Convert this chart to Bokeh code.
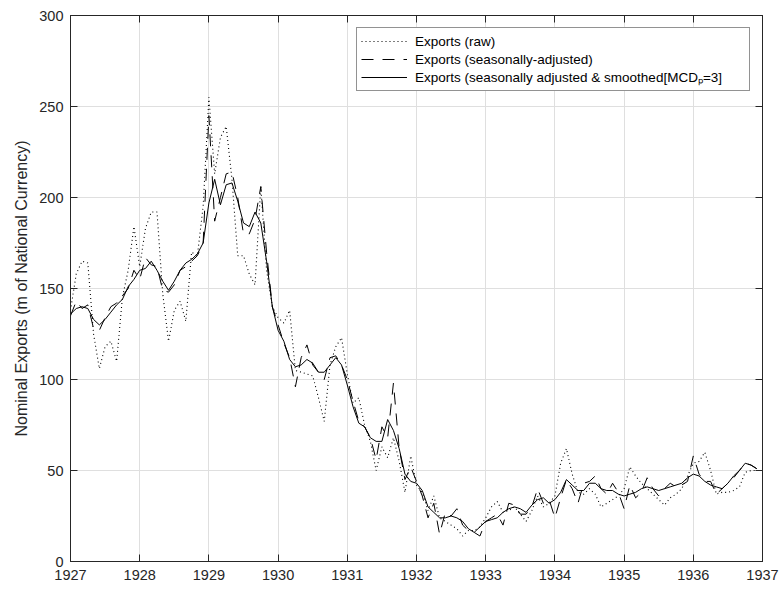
import numpy as np
from bokeh.plotting import figure
from bokeh.models import (Range1d, FixedTicker, LinearAxis, Legend, LegendItem,
                          ColumnDataSource, CustomJSTickFormatter)
from bokeh.embed import file_html
from bokeh.resources import INLINE

# ---------------- data (monthly, Jan 1927 .. Dec 1936) ----------------
start_year = 1927
raw = [138, 158, 165, 164, 125, 106, 118, 121, 110, 145, 160, 184,
       162, 183, 192, 192, 147, 121, 138, 143, 132, 170, 168, 195,
       255, 213, 233, 239, 210, 168, 168, 158, 152, 206, 160, 140,
       134, 131, 138, 105, 104, 103, 102, 90, 77, 108, 118, 123,
       103, 87, 90, 75, 66, 50, 63, 57, 68, 55, 38, 58,
       42, 38, 28, 36, 24, 22, 20, 18, 14, 17, 17, 19,
       24, 30, 33, 27, 28, 30, 26, 22, 28, 36, 30, 32,
       36, 54, 62, 48, 38, 37, 40, 37, 30, 32, 34, 36,
       40, 52, 47, 43, 40, 37, 34, 31, 35, 37, 40, 47,
       54, 55, 60, 50, 37, 38, 38, 39, 41, 49, 50, 50]
seas_adj = [135, 143, 139, 141, 128, 127, 134, 140, 142, 146, 150, 160,
            155, 167, 163, 162, 149, 148, 152, 160, 162, 165, 168, 175,
            245, 187, 200, 213, 214, 200, 180, 180, 188, 206, 170, 140,
            130, 120, 112, 96, 112, 119, 108, 104, 100, 112, 113, 108,
            100, 88, 77, 74, 68, 56, 74, 68, 98, 62, 45, 52,
            44, 36, 24, 32, 15, 27, 25, 29, 20, 17, 16, 14,
            22, 24, 26, 20, 32, 31, 26, 26, 30, 40, 32, 34,
            24, 35, 45, 40, 32, 43, 44, 47, 40, 37, 43, 38,
            29, 42, 35, 38, 46, 40, 36, 40, 43, 41, 42, 44,
            58, 48, 44, 44, 37, 40, 43, 46, 50, 54, 53, 51]
smoothed = [136, 139, 140, 139, 133, 130, 133, 137, 141, 144, 151, 155,
            160, 161, 165, 160, 154, 149, 154, 160, 164, 166, 169, 175,
            197, 210, 196, 207, 208, 198, 186, 184, 192, 186, 165, 140,
            127, 121, 111, 107, 108, 111, 109, 104, 104, 108, 112, 108,
            97, 85, 76, 74, 68, 66, 66, 78, 72, 62, 48, 44,
            43, 39, 30, 27, 24, 24, 25, 24, 22, 18, 16, 19,
            22, 23, 24, 27, 29, 30, 29, 27, 31, 34, 35, 32,
            34, 38, 45, 42, 39, 39, 43, 43, 40, 39, 39, 37,
            36, 37, 38, 40, 41, 40, 39, 40, 41, 42, 43, 46,
            48, 47, 44, 42, 41, 40, 43, 47, 50, 54, 53, 51]

x_ticks = list(range(1927, 1938))
y_ticks = [0, 50, 100, 150, 200, 250, 300]
series_labels = ["Exports (raw)",
                 "Exports (seasonally-adjusted)",
                 "Exports (seasonally adjusted & smoothed[MCD\u209a=3]"]
y_label = "Nominal Exports (m of National Currency)"

t = start_year + np.arange(len(raw)) / 12.0
src = ColumnDataSource(dict(t=t, raw=raw, sa=seas_adj, sm=smoothed))

AX = "#262626"
FONT = "Liberation Sans"

p = figure(frame_width=692, frame_height=546, output_backend="svg", toolbar_location=None,
           x_range=Range1d(1927, 1937), y_range=Range1d(0, 300),
           min_border_left=70, min_border_right=19, min_border_top=15, min_border_bottom=30)
p.outline_line_color = AX
p.outline_line_width = 1
p.background_fill_color = "white"
p.border_fill_color = "white"

r1 = p.line("t", "raw", source=src, line_color="black", line_width=1.1, line_dash="1 3")
r2 = p.line("t", "sa", source=src, line_color="black", line_width=1, line_dash="12 9")
r3 = p.line("t", "sm", source=src, line_color="black", line_width=1)

for ax in (p.xaxis[0], p.yaxis[0]):
    ax.axis_line_color = AX
    ax.major_tick_line_color = AX
    ax.major_tick_in = 7
    ax.major_tick_out = 0
    ax.minor_tick_line_color = None
    ax.major_label_text_font = FONT
    ax.major_label_text_font_size = "14.5px"
    ax.major_label_text_color = AX
p.xaxis[0].ticker = FixedTicker(ticks=x_ticks)
p.yaxis[0].ticker = FixedTicker(ticks=y_ticks)
p.xaxis[0].major_label_standoff = 8
p.yaxis[0].major_label_standoff = 7
p.yaxis[0].axis_label = y_label
p.yaxis[0].axis_label_text_font = FONT
p.yaxis[0].axis_label_text_font_style = "normal"
p.yaxis[0].axis_label_text_font_size = "16px"
p.yaxis[0].axis_label_text_color = AX
p.yaxis[0].axis_label_standoff = 6

blank = CustomJSTickFormatter(code="return '';")
for loc, tk in (("above", x_ticks), ("right", y_ticks)):
    a = LinearAxis(ticker=FixedTicker(ticks=tk), formatter=blank)
    a.axis_line_color = AX
    a.major_tick_line_color = AX
    a.major_tick_in = 7
    a.major_tick_out = 0
    a.minor_tick_line_color = None
    a.major_label_text_color = None
    a.major_label_standoff = 0
    p.add_layout(a, loc)

p.xgrid.ticker = FixedTicker(ticks=x_ticks)
p.ygrid.ticker = FixedTicker(ticks=y_ticks)
p.grid.grid_line_color = "#dfdfdf"
p.grid.grid_line_width = 1

legend = Legend(items=[LegendItem(label=series_labels[0], renderers=[r1]),
                       LegendItem(label=series_labels[1], renderers=[r2]),
                       LegendItem(label=series_labels[2], renderers=[r3])],
                location="top_right")
legend.margin = 12
legend.padding = 4
legend.spacing = 0
legend.label_height = 18
legend.glyph_height = 18
legend.glyph_width = 46
legend.label_standoff = 8
legend.label_width = 330
legend.label_text_font = FONT
legend.label_text_font_size = "13.5px"
legend.label_text_color = "black"
legend.border_line_color = AX
legend.border_line_width = 1
legend.background_fill_color = "white"
legend.background_fill_alpha = 1
p.add_layout(legend)

open("out.html", "w").write(file_html(p, INLINE))
